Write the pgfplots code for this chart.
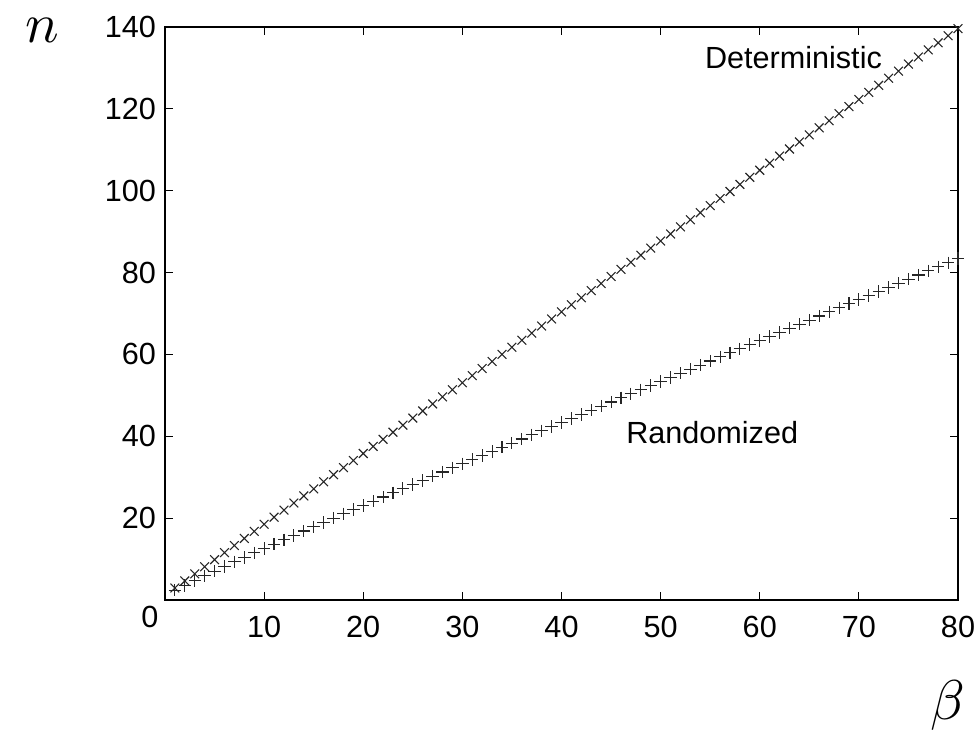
\documentclass[border=0pt]{standalone}
\usepackage{fontspec}
\setmainfont{Liberation Sans}
\usepackage{pgfplots}
\pgfplotsset{compat=1.18}
\begin{document}
\begin{tikzpicture}
\useasboundingbox (0,0) rectangle (487pt,364.5pt);
\begin{axis}[
  at={(82.5pt,64.5pt)}, anchor=south west,
  scale only axis, width=396.5pt, height=286.5pt,
  xmin=0, xmax=80, ymin=0, ymax=140,
  xtick={10,20,...,80}, ytick={20,40,...,140},
  tick align=inside, tick pos=both,
  major tick length=4.2pt,
  axis line style={line width=0.8pt},
  every tick/.style={line width=0.6pt, black},
  /pgf/number format/assume math mode=true,
  tick label style={font=\fontsize{15.3}{18}\selectfont},
  xticklabel style={yshift=-4.5pt},
  yticklabel style={xshift=-1pt},
  clip=false,
]
\addplot[only marks, mark=x, mark size=3.1pt, mark options={line width=0.55pt, black!85}] coordinates {
(1,2.93) (2,4.66) (3,6.39) (4,8.12) (5,9.85) (6,11.58) (7,13.31) (8,15.04) (9,16.77) (10,18.5)
(11,20.23) (12,21.96) (13,23.69) (14,25.42) (15,27.15) (16,28.88) (17,30.61) (18,32.34) (19,34.07) (20,35.8)
(21,37.53) (22,39.26) (23,40.99) (24,42.72) (25,44.45) (26,46.18) (27,47.91) (28,49.64) (29,51.37) (30,53.1)
(31,54.83) (32,56.56) (33,58.29) (34,60.02) (35,61.75) (36,63.48) (37,65.21) (38,66.94) (39,68.67) (40,70.4)
(41,72.13) (42,73.86) (43,75.59) (44,77.32) (45,79.05) (46,80.78) (47,82.51) (48,84.24) (49,85.97) (50,87.7)
(51,89.43) (52,91.16) (53,92.89) (54,94.62) (55,96.35) (56,98.08) (57,99.81) (58,101.54) (59,103.27) (60,105.0)
(61,106.73) (62,108.46) (63,110.19) (64,111.92) (65,113.65) (66,115.38) (67,117.11) (68,118.84) (69,120.57) (70,122.3)
(71,124.03) (72,125.76) (73,127.49) (74,129.22) (75,130.95) (76,132.68) (77,134.41) (78,136.14) (79,137.87) (80,139.6)
};
\addplot[only marks, mark=+, mark size=3.1pt, mark options={line width=0.55pt, black!85}] coordinates {
(1,2.4) (2,3.59) (3,4.76) (4,5.92) (5,7.06) (6,8.19) (7,9.3) (8,10.41) (9,11.5) (10,12.59)
(11,13.66) (12,14.73) (13,15.8) (14,16.85) (15,17.91) (16,18.95) (17,20.0) (18,21.03) (19,22.07) (20,23.1)
(21,24.13) (22,25.16) (23,26.18) (24,27.2) (25,28.22) (26,29.24) (27,30.25) (28,31.27) (29,32.28) (30,33.29)
(31,34.3) (32,35.31) (33,36.32) (34,37.33) (35,38.33) (36,39.34) (37,40.35) (38,41.35) (39,42.36) (40,43.36)
(41,44.37) (42,45.37) (43,46.37) (44,47.37) (45,48.38) (46,49.38) (47,50.38) (48,51.38) (49,52.39) (50,53.39)
(51,54.4) (52,55.4) (53,56.4) (54,57.4) (55,58.4) (56,59.4) (57,60.4) (58,61.4) (59,62.4) (60,63.4)
(61,64.4) (62,65.4) (63,66.4) (64,67.4) (65,68.4) (66,69.4) (67,70.4) (68,71.4) (69,72.4) (70,73.4)
(71,74.4) (72,75.4) (73,76.4) (74,77.4) (75,78.4) (76,79.4) (77,80.4) (78,81.4) (79,82.4) (80,83.4)
};
\node[font=\fontsize{15.3}{18}\selectfont] at (axis cs:63.4,132.5) {Deterministic};
\node[font=\fontsize{15.3}{18}\selectfont] at (axis cs:55.2,40.8) {Randomized};
\node[font=\fontsize{15.3}{18}\selectfont] at (axis cs:0,0) [xshift=-7.5pt, yshift=-8.5pt] {0};
\end{axis}
\node[scale=2.8] at (21pt,349.5pt) {$n$};
\node[scale=2.8] at (474pt,12pt) {$\beta$};
\end{tikzpicture}
\end{document}
